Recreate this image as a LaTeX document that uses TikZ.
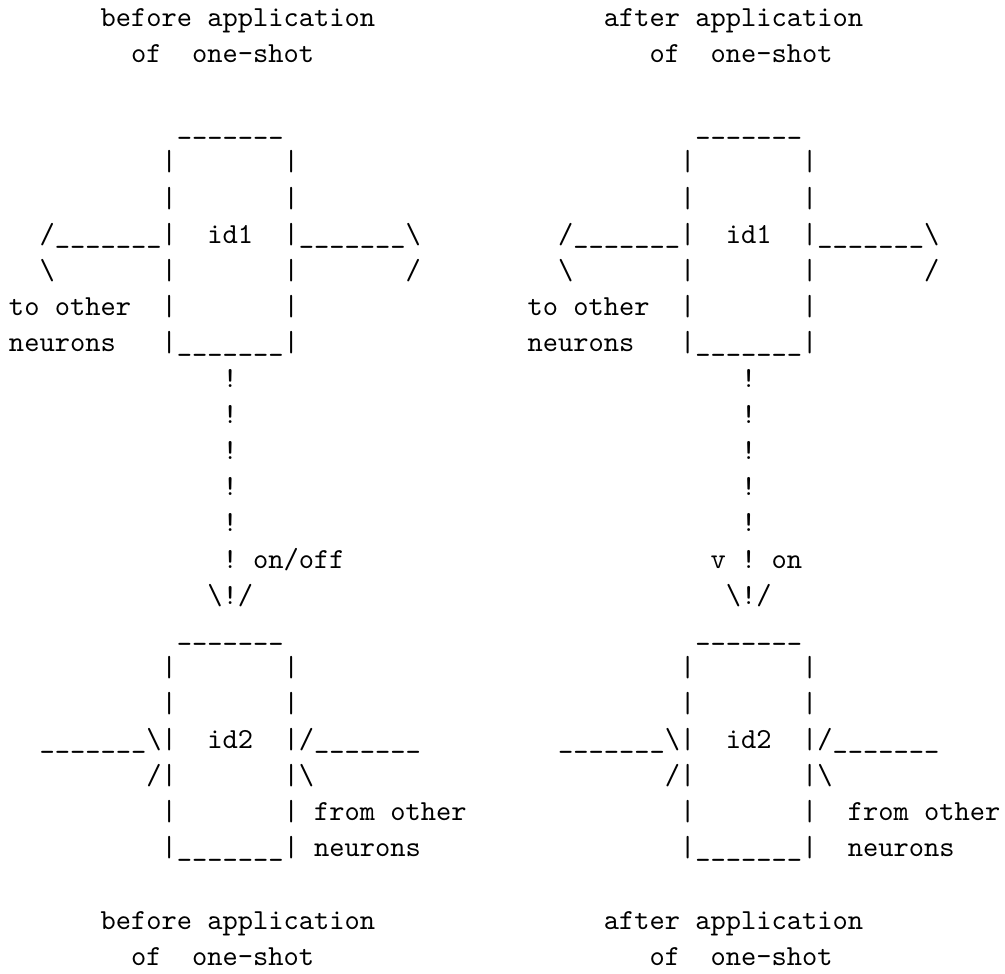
\documentclass[tikz,border=0pt]{standalone}
\usepackage{fontspec}
\newcommand\us{\textunderscore}
\newcommand\bs{\textbackslash}
\newcommand\ubar{\us\us\us\us\us\us\us}
% 10pt typewriter face, enlarged as a whole so the 10pt design weight is kept
\tikzset{ascii/.style={anchor=base west, inner sep=0pt, outer sep=0pt,
  font=\fontsize{10}{12}\selectfont\ttfamily, scale=2.905, transform shape}}
% \asc{name}{column}{row}{text}: one run of monospaced characters on the grid
\newcommand\asc[4]{\node[ascii] (#1) at ({9+15.25*#2},{26.5+36.1*#3}) {#4};}
\begin{document}
\begin{tikzpicture}[x=1pt,y=-1pt]
\useasboundingbox (0,0) rectangle (1005,974);
% ---------- left panel ----------
\asc{Lt0}{6}{0}{before~application}
\asc{Lt1}{8}{1}{of~~one-shot}
\asc{La3}{11}{3}{\ubar}
\asc{La4}{10}{4}{|~~~~~~~|}
\asc{La5}{10}{5}{|~~~~~~~|}
\asc{La6}{2}{6}{/\ubar|~~id1~~|\ubar\bs}
\asc{La7}{2}{7}{\bs~~~~~~~|~~~~~~~|~~~~~~~/}
\asc{La8}{0}{8}{to~other~~|~~~~~~~|}
\asc{La9}{0}{9}{neurons~~~|\ubar|}
\asc{Lx10}{14}{10}{!}
\asc{Lx11}{14}{11}{!}
\asc{Lx12}{14}{12}{!}
\asc{Lx13}{14}{13}{!}
\asc{Lx14}{14}{14}{!}
\asc{Lx15}{14}{15}{!~on/off}
\asc{Lx16}{13}{16}{\bs!/}
\asc{Lb17}{11}{17}{\ubar}
\asc{Lb18}{10}{18}{|~~~~~~~|}
\asc{Lb19}{10}{19}{|~~~~~~~|}
\asc{Lb20}{2}{20}{\ubar\bs|~~id2~~|/\ubar}
\asc{Lb21}{9}{21}{/|~~~~~~~|\bs}
\asc{Lb22}{10}{22}{|~~~~~~~|~from~other}
\asc{Lb23}{10}{23}{|\ubar|~neurons}
\asc{Lt25}{6}{25}{before~application}
\asc{Lt26}{8}{26}{of~~one-shot}
% ---------- right panel ----------
\asc{Rt0}{39}{0}{after~application}
\asc{Rt1}{42}{1}{of~~one-shot}
\asc{Ra3}{45}{3}{\ubar}
\asc{Ra4}{44}{4}{|~~~~~~~|}
\asc{Ra5}{44}{5}{|~~~~~~~|}
\asc{Ra6}{36}{6}{/\ubar|~~id1~~|\ubar\bs}
\asc{Ra7}{36}{7}{\bs~~~~~~~|~~~~~~~|~~~~~~~/}
\asc{Ra8}{34}{8}{to~other~~|~~~~~~~|}
\asc{Ra9}{34}{9}{neurons~~~|\ubar|}
\asc{Rx10}{48}{10}{!}
\asc{Rx11}{48}{11}{!}
\asc{Rx12}{48}{12}{!}
\asc{Rx13}{48}{13}{!}
\asc{Rx14}{48}{14}{!}
\asc{Rx15}{46}{15}{v~!~on}
\asc{Rx16}{47}{16}{\bs!/}
\asc{Rb17}{45}{17}{\ubar}
\asc{Rb18}{44}{18}{|~~~~~~~|}
\asc{Rb19}{44}{19}{|~~~~~~~|}
\asc{Rb20}{36}{20}{\ubar\bs|~~id2~~|/\ubar}
\asc{Rb21}{43}{21}{/|~~~~~~~|\bs}
\asc{Rb22}{44}{22}{|~~~~~~~|~~from~other}
\asc{Rb23}{44}{23}{|\ubar|~~neurons}
\asc{Rt25}{39}{25}{after~application}
\asc{Rt26}{42}{26}{of~~one-shot}
\end{tikzpicture}
\end{document}
